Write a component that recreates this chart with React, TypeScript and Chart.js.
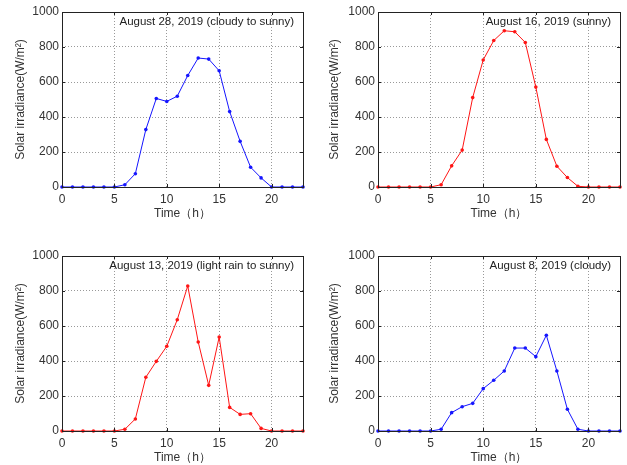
import React, { useEffect, useRef } from "react";
import { Chart, registerables } from "chart.js";

Chart.register(...registerables);

const hours = [0, 1, 2, 3, 4, 5, 6, 7, 8, 9, 10, 11, 12, 13, 14, 15, 16, 17, 18, 19, 20, 21, 22, 23];
const xTicks = [0, 5, 10, 15, 20];
const yTicks = [0, 200, 400, 600, 800, 1000];

const aug28 = [0, 0, 0, 0, 0, 0, 13, 76, 328, 506, 489, 519, 637, 737, 731, 664, 431, 261, 113, 52, 0, 0, 0, 0];
const aug16 = [0, 0, 0, 0, 0, 0, 13, 121, 211, 511, 726, 837, 893, 887, 826, 571, 272, 119, 54, 4, 0, 0, 0, 0];
const aug13 = [0, 0, 0, 0, 0, 0, 10, 69, 307, 398, 484, 636, 829, 509, 261, 537, 135, 95, 99, 15, 0, 0, 0, 0];
const aug8 = [0, 0, 0, 0, 0, 0, 10, 105, 139, 158, 242, 290, 343, 474, 474, 425, 547, 343, 124, 10, 0, 0, 0, 0];

const titles = [
  "August 28, 2019 (cloudy to sunny)",
  "August 16, 2019 (sunny)",
  "August 13, 2019 (light rain to sunny)",
  "August 8, 2019 (cloudy)",
];

const FONT = "'Liberation Sans', Arial, Helvetica, sans-serif";
const TEXT = "#333";

type PanelProps = {
  values: number[];
  color: string;
  title: string;
  left: number;
  top: number;
  w: number;
  h: number;
  pl: number;
  pr: number;
  pt: number;
  pb: number;
};

function Panel(props: PanelProps) {
  const ref = useRef<HTMLCanvasElement | null>(null);
  useEffect(() => {
    const { values, color, title, w, h, pl, pr, pt, pb } = props;
    const padLeft = 13;
    const xH = 34;
    const padBottom = h - pb - xH;
    const boxPlugin = {
      id: "box",
      afterDraw(chart: any) {
        const { ctx, chartArea: a } = chart;
        ctx.save();
        ctx.strokeStyle = "#222";
        ctx.lineWidth = 1;
        ctx.strokeRect(Math.round(a.left) + 0.5, Math.round(a.top) + 0.5, Math.round(a.right - a.left), Math.round(a.bottom - a.top));
        const xs = chart.scales.x;
        const ys = chart.scales.y;
        ctx.beginPath();
        xTicks.forEach((t) => {
          const px = Math.round(xs.getPixelForValue(t)) + 0.5;
          ctx.moveTo(px, a.bottom);
          ctx.lineTo(px, a.bottom - 3);
          ctx.moveTo(px, a.top);
          ctx.lineTo(px, a.top + 3);
        });
        yTicks.forEach((t) => {
          const py = Math.round(ys.getPixelForValue(t)) + 0.5;
          ctx.moveTo(a.left, py);
          ctx.lineTo(a.left + 3, py);
          ctx.moveTo(a.right, py);
          ctx.lineTo(a.right - 3, py);
        });
        ctx.stroke();
        ctx.fillStyle = "#222";
        ctx.font = `11.5px ${FONT}`;
        ctx.textAlign = "right";
        ctx.textBaseline = "middle";
        ctx.fillText(title, a.right - 9, a.top + 10);
        ctx.restore();
      },
    };
    const chart = new Chart(ref.current as HTMLCanvasElement, {
      type: "line",
      data: {
        datasets: [
          {
            data: hours.map((x, i) => ({ x, y: values[i] })),
            borderColor: color,
            backgroundColor: color,
            borderWidth: 1,
            pointRadius: 1.8,
            pointBorderWidth: 0,
            pointStyle: "circle",
            tension: 0,
            clip: false as any,
          },
        ],
      },
      options: {
        responsive: false,
        animation: false,
        layout: { padding: { left: padLeft, right: w - pr, top: pt, bottom: padBottom } },
        plugins: { legend: { display: false }, tooltip: { enabled: false } },
        scales: {
          x: {
            type: "linear",
            min: 0,
            max: 23,
            afterFit(scale: any) {
              scale.height = xH;
            },
            afterBuildTicks(scale: any) {
              scale.ticks = xTicks.map((v) => ({ value: v }));
            },
            ticks: { color: TEXT, font: { size: 12, family: FONT }, padding: 5, maxRotation: 0, callback: (v: any) => String(v) },
            grid: { color: "#999", drawTicks: false } as any,
            border: { display: false, dash: [1, 2] },
            title: { display: true, text: "Time（h）", color: TEXT, font: { size: 12, family: FONT }, padding: { top: 0, bottom: 0 } },
          },
          y: {
            type: "linear",
            min: 0,
            max: 1000,
            afterFit(scale: any) {
              scale.width = pl - padLeft;
            },
            afterBuildTicks(scale: any) {
              scale.ticks = yTicks.map((v) => ({ value: v }));
            },
            ticks: { color: TEXT, font: { size: 12, family: FONT }, padding: 3, callback: (v: any) => String(v) },
            grid: { color: "#999", drawTicks: false } as any,
            border: { display: false, dash: [1, 2] },
            title: { display: true, text: "Solar irradiance(W/m²)", color: TEXT, font: { size: 12, family: FONT }, padding: { top: 0, bottom: 0 } },
          },
        },
      } as any,
      plugins: [boxPlugin],
    });
    return () => chart.destroy();
  }, []);
  return (
    <canvas
      ref={ref}
      width={props.w}
      height={props.h}
      style={{ position: "absolute", left: props.left, top: props.top, width: props.w, height: props.h }}
    />
  );
}

export default function App() {
  useEffect(() => {
    document.body.style.margin = "0";
    document.body.style.background = "#fff";
  }, []);
  const W = 313;
  const H = 232;
  return (
    <div style={{ position: "relative", width: 627, height: 465, background: "#fff" }}>
      <Panel values={aug28} color="#1515ff" title={titles[0]} left={0} top={0} w={W} h={H} pl={62} pr={303} pt={12} pb={187} />
      <Panel values={aug16} color="#ff1515" title={titles[1]} left={314} top={0} w={W} h={H} pl={64} pr={306} pt={12} pb={187} />
      <Panel values={aug13} color="#ff1515" title={titles[2]} left={0} top={233} w={W} h={H} pl={62} pr={303} pt={23} pb={198} />
      <Panel values={aug8} color="#1515ff" title={titles[3]} left={314} top={233} w={W} h={H} pl={64} pr={306} pt={23} pb={198} />
    </div>
  );
}
